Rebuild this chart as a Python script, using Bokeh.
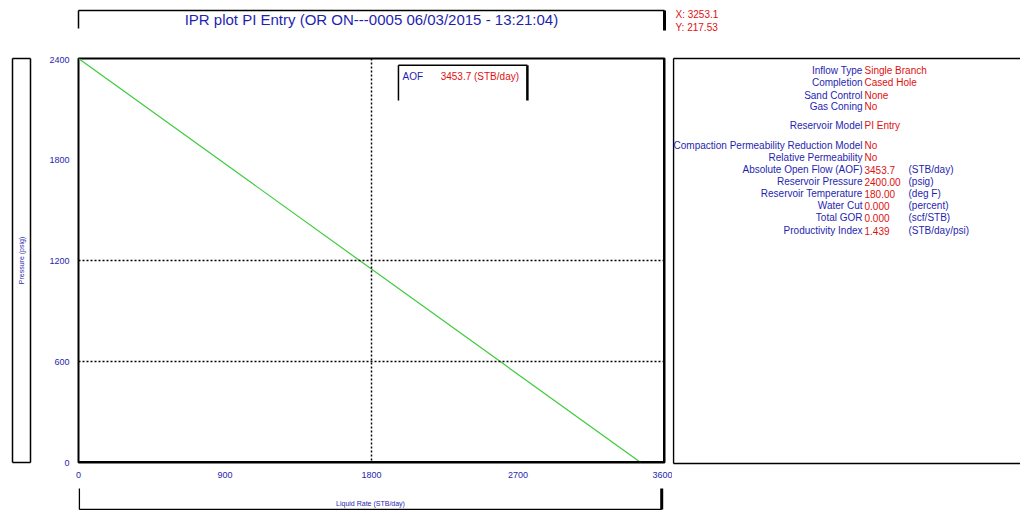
from math import pi
from bokeh.plotting import figure
from bokeh.layouts import row, column
from bokeh.models import Range1d, FixedTicker, Span
from bokeh.core.properties import value
from bokeh.embed import file_html
from bokeh.resources import INLINE

# ---------------- data ----------------
title_text = "IPR plot  PI Entry (OR ON---0005 06/03/2015 - 13:21:04)"
cursor_text = ["X: 3253.1", "Y: 217.53"]
x_title = "Liquid Rate (STB/day)"
y_title = "Pressure (psig)"

ipr_rate = [0.0, 3453.7]          # STB/day
ipr_pressure = [2400.0, 0.0]      # psig
x_max = 3600.0
y_max = 2400.0
x_ticks = [0, 900, 1800, 2700, 3600]
x_tick_labels = ["0", "900", "1800", "2700", "3600"]
y_ticks = [0, 600, 1200, 1800, 2400]
y_tick_labels = ["0", "600", "1200", "1800", "2400"]
grid_x = [1800]
grid_y = [600, 1200]
legend_name = "AOF"
legend_value = "3453.7 (STB/day)"

info_labels = ["Inflow Type", "Completion", "Sand Control", "Gas Coning", "Reservoir Model",
               "Compaction Permeability Reduction Model", "Relative Permeability",
               "Absolute Open Flow (AOF)", "Reservoir Pressure", "Reservoir Temperature",
               "Water Cut", "Total GOR", "Productivity Index"]
info_values = ["Single Branch", "Cased Hole", "None", "No", "PI Entry", "No", "No",
               "3453.7", "2400.00", "180.00", "0.000", "0.000", "1.439"]
info_units = ["", "", "", "", "", "", "", "(STB/day)", "(psig)", "(deg F)",
              "(percent)", "(scf/STB)", "(STB/day/psi)"]

# ---------------- style ----------------
BLUE = "#1f1fb0"
RED = "#e01010"
FONT = value("Liberation Sans")
info_y = [14, 26, 39, 50, 69, 89, 101, 113, 125, 137, 149, 161, 174]


def deco(w, h, x0=0, x1=None):
    f = figure(width=w, height=h, x_range=Range1d(x0, w if x1 is None else x1),
               y_range=Range1d(h, 0),
               output_backend="svg", toolbar_location=None, min_border=0,
               x_axis_type=None, y_axis_type=None)
    f.outline_line_color = None
    f.grid.visible = False
    return f


# top strip: title bracket + cursor readout
top = deco(1020, 56)
top.segment(x0=[78, 78, 664], y0=[10, 10, 10], x1=[664, 78, 664], y1=[10, 28, 30],
            line_color="black", line_width=[1.5, 1.5, 3])
top.text(x=[373], y=[19], text=[title_text], text_align="center", text_baseline="middle",
         text_color=BLUE, text_font=FONT, text_font_size="15px")
top.text(x=[675, 675], y=[14, 27], text=cursor_text, text_align="left", text_baseline="middle",
         text_color=RED, text_font=FONT, text_font_size="10px")

# left strip: y title box
left = deco(38, 454)
left.segment(x0=[12, 12, 12, 30], y0=[2, 406, 2, 2], x1=[30, 30, 12, 30], y1=[2, 406, 406, 406],
             line_color="black", line_width=1.5)
left.text(x=[21], y=[204], text=[y_title], angle=pi / 2, text_align="center",
          text_baseline="middle", text_color=BLUE, text_font=FONT, text_font_size="7px")

# main plot
p = figure(width=634, height=426, x_range=Range1d(0, x_max), y_range=Range1d(0, y_max),
           output_backend="svg", toolbar_location=None,
           min_border_left=40, min_border_right=8, min_border_top=2, min_border_bottom=20)
p.outline_line_color = "black"
p.outline_line_width = 2
p.grid.visible = False
for ax, ticks, labels in ((p.xaxis, x_ticks, x_tick_labels), (p.yaxis, y_ticks, y_tick_labels)):
    ax.ticker = FixedTicker(ticks=ticks)
    ax.major_label_overrides = {t: l for t, l in zip(ticks, labels)}
    ax.axis_line_color = None
    ax.major_tick_line_color = None
    ax.minor_tick_line_color = None
    ax.major_label_text_font = "Liberation Sans"
    ax.major_label_text_font_size = "9px"
    ax.major_label_text_color = BLUE
p.xaxis.major_label_standoff = 3
p.yaxis.major_label_standoff = 3

for gx in grid_x:
    p.add_layout(Span(location=gx, dimension="height", line_color="black",
                      line_dash="2 2", line_width=1.5))
for gy in grid_y:
    p.add_layout(Span(location=gy, dimension="width", line_color="black",
                      line_dash="2 2", line_width=1.5))
p.add_layout(Span(location=x_max, dimension="height", line_color="black", line_width=3))
p.add_layout(Span(location=0, dimension="width", line_color="black", line_width=3))

p.line(ipr_rate, ipr_pressure, line_color="#3ccc3c", line_width=1.2)

# legend box (bracket) inside the plot
lx0, lx1 = 0.546 * x_max, 0.766 * x_max
ly0, ly1 = 0.896 * y_max, 0.983 * y_max
p.segment(x0=[lx0, lx0, lx1], y0=[ly1, ly1, ly1], x1=[lx1, lx0, lx1], y1=[ly1, ly0, ly0],
          line_color="black", line_width=[1.5, 1.5, 2.5])
p.text(x=[0.553 * x_max], y=[0.955 * y_max], text=[legend_name], text_align="left",
       text_baseline="middle", text_color=BLUE, text_font=FONT, text_font_size="10px")
p.text(x=[0.618 * x_max], y=[0.955 * y_max], text=[legend_value], text_align="left",
       text_baseline="middle", text_color=RED, text_font=FONT, text_font_size="10px")

# x title box (its frame is aligned with the main plot frame, page x 78..664)
xlab = deco(634, 28, 39.2, 628.8)
xlab.segment(x0=[40, 40, 626], y0=[27, 6, 6], x1=[626, 40, 626], y1=[27, 27, 27],
             line_color="black", line_width=[1.5, 1.5, 3])
xlab.text(x=[333], y=[21], text=[x_title], text_align="center", text_baseline="middle",
          text_color=BLUE, text_font=FONT, text_font_size="7px")

# right info panel
right = deco(348, 454)
right.segment(x0=[1, 1, 1], y0=[2, 407, 2], x1=[348, 348, 1], y1=[2, 407, 407],
              line_color="black", line_width=[1.5, 1.5, 1.5])
right.text(x=[190] * len(info_labels), y=info_y, text=info_labels, text_align="right",
           text_baseline="middle", text_color=BLUE, text_font=FONT, text_font_size="10px")
right.text(x=[192] * len(info_values), y=info_y, text=info_values, text_align="left",
           text_baseline="middle", text_color=RED, text_font=FONT, text_font_size="10px")
right.text(x=[236] * len(info_units), y=info_y, text=info_units, text_align="left",
           text_baseline="middle", text_color=BLUE, text_font=FONT, text_font_size="10px")

layout = column(top, row(left, column(p, xlab), right))
open("out.html", "w").write(file_html(layout, INLINE))
